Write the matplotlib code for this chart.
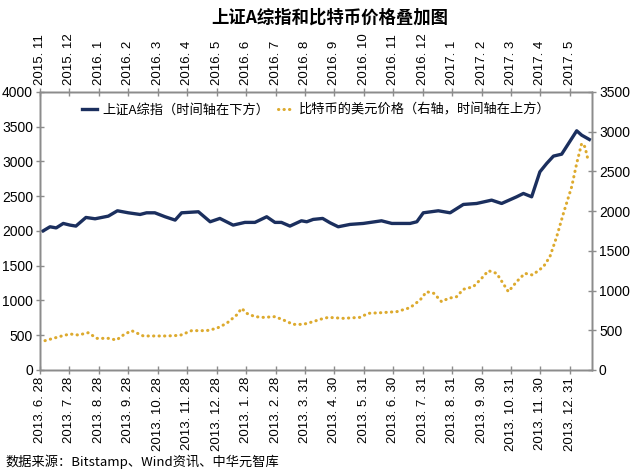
import matplotlib
matplotlib.use('Agg')
import matplotlib.pyplot as plt

plt.rcParams['font.family'] = ['Noto Sans CJK SC', 'DejaVu Sans']

# x positions in months from the first tick (bottom axis = 上证, top axis = 比特币)
sh_x = [0.11, 0.34, 0.55, 0.79, 1.02, 1.22, 1.56, 1.87, 2.32, 2.63, 3.0, 3.4, 3.62, 3.9, 4.25,
        4.59, 4.81, 5.38, 5.78, 6.11, 6.56, 6.96, 7.3, 7.7, 7.98, 8.2, 8.49, 8.88, 9.06, 9.28,
        9.6, 9.85, 10.13, 10.53, 10.98, 11.6, 11.95, 12.57, 12.8, 13.02, 13.53, 13.93, 14.38,
        14.83, 15.34, 15.68, 16.19, 16.42, 16.7, 16.98, 17.21, 17.44, 17.72, 18.23, 18.4, 18.66]
sh_y = [2001, 2059, 2043, 2107, 2083, 2069, 2193, 2174, 2212, 2289, 2260, 2236, 2260, 2260, 2203,
        2155, 2260, 2275, 2131, 2179, 2083, 2122, 2122, 2203, 2122, 2122, 2069, 2145, 2131, 2165,
        2179, 2117, 2059, 2093, 2107, 2145, 2107, 2107, 2131, 2260, 2289, 2260, 2380,
        2394, 2442, 2394, 2490, 2538, 2490, 2849, 2969, 3075, 3103, 3439, 3376, 3314]

btc_x = [0.17, 0.45, 0.74, 1.02, 1.3, 1.64, 1.93, 2.32, 2.6, 2.83, 3.11, 3.51, 3.96, 4.3, 4.76,
         5.15, 5.66, 6.0, 6.34, 6.68, 6.85, 7.02, 7.3, 7.59, 7.98, 8.27, 8.6, 8.94, 9.28, 9.51,
         9.79, 10.3, 10.87, 11.15, 11.6, 12.12, 12.57, 12.91, 13.13, 13.38, 13.64, 13.87, 14.15,
         14.38, 14.72, 15.0, 15.23, 15.51, 15.91, 16.19, 16.47, 16.73, 17.1, 17.32, 17.55, 17.78,
         18.06, 18.23, 18.4, 18.51, 18.63]
btc_y = [369, 398, 428, 453, 440, 469, 398, 398, 377, 440, 495, 428, 428, 428, 436,
         495, 495, 524, 587, 692, 776, 713, 671, 662, 671, 629, 574, 574, 608, 637,
         662, 650, 662, 713, 721, 734, 784, 880, 985, 964, 859, 901, 922,
         1015, 1048, 1153, 1249, 1216, 985, 1111, 1216, 1195, 1299, 1425, 1676, 1971,
         2305, 2599, 2851, 2808, 2620]

bottom_labels = ['2013. 6. 28', '2013. 7. 28', '2013. 8. 28', '2013. 9. 28', '2013. 10. 28',
                 '2013. 11. 28', '2013. 12. 28', '2013. 1. 28', '2013. 2. 28', '2013. 3. 31',
                 '2013. 4. 30', '2013. 5. 31', '2013. 6. 30', '2013. 7. 31', '2013. 8. 31',
                 '2013. 9. 30', '2013. 10. 31', '2013. 11. 30', '2013. 12. 31']
top_labels = ['2015. 11', '2015. 12', '2016. 1', '2016. 2', '2016. 3', '2016. 4', '2016. 5',
              '2016. 6', '2016. 7', '2016. 8', '2016. 9', '2016. 10', '2016. 11', '2016. 12',
              '2017. 1', '2017. 2', '2017. 3', '2017. 4', '2017. 5']

blue = '#1B2F5E'
gold = '#DDAA2E'
grey = '#8C8C8C'
num_font = 'Liberation Sans'

fig = plt.figure(figsize=(6.4, 4.76), dpi=100)
ax = fig.add_axes([0.0625, 0.2227, 0.8625, 0.5845])
ax2 = ax.twinx()
ax3 = ax.twiny()

l1, = ax.plot(sh_x, sh_y, color=blue, lw=2.4, solid_joinstyle='round', zorder=3,
              label='上证A综指（时间轴在下方）')
l2, = ax2.plot(btc_x, btc_y, color=gold, lw=2.2, dashes=(0.1, 1.7), dash_capstyle='round',
               label='比特币的美元价格（右轴，时间轴在上方）')

ax.set_xlim(0, 18.75)
ax3.set_xlim(0, 18.75)
ax.set_ylim(0, 4000)
ax2.set_ylim(0, 3500)
ax.set_yticks(range(0, 4001, 500))
ax2.set_yticks(range(0, 3501, 500))

ticks = list(range(len(bottom_labels)))
ax.set_xticks(ticks)
ax.set_xticklabels(bottom_labels, rotation=90, fontsize=9.5, family=num_font)
ax3.set_xticks(ticks)
ax3.set_xticklabels(top_labels, rotation=90, fontsize=9.5, family=num_font)

for a in (ax, ax2, ax3):
    for s in a.spines.values():
        s.set_color(grey)
        s.set_linewidth(1.0)
    a.tick_params(direction='inout', length=6, color=grey, width=1.0, labelsize=10, pad=2)
ax.tick_params(axis='x', labelsize=9.5)
ax3.tick_params(axis='x', labelsize=9.5)
for lab in ax.get_yticklabels() + ax2.get_yticklabels():
    lab.set_family(num_font)

ax.legend(handles=[l1, l2], loc='upper center', bbox_to_anchor=(0.5, 1.0), ncol=2,
          frameon=False, fontsize=9.5, handlelength=1.2, handletextpad=0.4, columnspacing=0.6)

fig.text(0.515, 0.962, '上证A综指和比特币价格叠加图', ha='center', va='center',
         fontsize=12.5, fontweight='bold')
fig.text(0.008, 0.03, '数据来源：Bitstamp、Wind资讯、中华元智库', ha='left', va='center',
         fontsize=9.5)

fig.savefig('out.png', dpi=100)
